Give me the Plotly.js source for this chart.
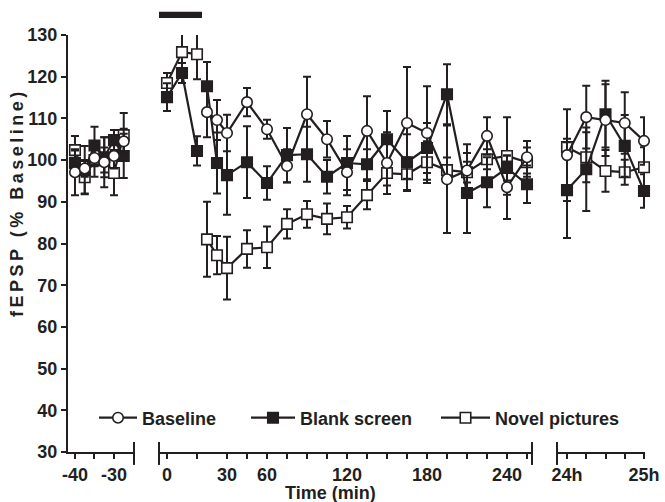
<!DOCTYPE html>
<html><head><meta charset="utf-8">
<script src="https://cdn.plot.ly/plotly-3.0.1.min.js"></script>
<style>
html,body{margin:0;padding:0;background:#fff;}
#chart{width:665px;height:502px;}
text[data-unformatted^="fEPSP"]{letter-spacing:3.5px;}
</style></head><body><div id="chart"></div>
<script>
// ---- data (fEPSP, % of baseline; mean and SEM) ----
// pre-induction baseline recording, minutes
const preTime = [-40, -37.5, -35, -32.5, -30, -27.5];
const baselinePre = [97.1, 98.0, 100.5, 99.5, 101.0, 104.5];
const baselinePreErr = [5.5, 2.0, 2.0, 6.0, 3.0, 3.0];
const blankPre = [99.3, 97.6, 103.5, 100.7, 104.8, 101.0];
const blankPreErr = [3.0, 5.8, 4.5, 4.8, 2.4, 5.3];
const novelPre = [102.4, 95.9, 100.0, 100.0, 96.9, 106.0];
const novelPreErr = [3.4, 3.9, 4.0, 3.0, 5.3, 5.3];

// during exposure, minutes
const duringTime = [0, 7.5, 15];
const blankDuring = [115.1, 120.9, 102.2];
const blankDuringErr = [3.3, 2.4, 3.5];
const novelDuring = [118.5, 125.9, 125.4];
const novelDuringErr = [2.4, 5.8, 6.0];

// after exposure, minutes
const postTime = [20, 25, 30, 45, 60, 75, 90, 105, 120, 135, 150, 165, 180, 195, 210, 225, 240, 255];
const baselinePost = [111.5, 109.6, 106.5, 113.9, 107.4, 98.6, 111.0, 105.0, 97.1, 107.0, 99.3, 108.9, 106.5, 95.4, 97.5, 105.8, 93.5, 100.7];
const baselinePostErr = [6.0, 4.8, 4.4, 3.4, 2.3, 4.0, 9.0, 4.4, 5.5, 8.3, 7.4, 13.4, 11.2, 12.9, 6.3, 4.5, 7.6, 3.9];
const blankPost = [117.7, 99.3, 96.4, 99.5, 94.5, 101.2, 101.4, 96.0, 99.3, 99.0, 105.0, 99.5, 102.9, 115.8, 92.1, 94.7, 98.1, 94.2];
const blankPostErr = [5.8, 7.3, 9.5, 8.6, 4.0, 6.5, 6.6, 4.0, 6.5, 3.6, 6.8, 6.7, 6.0, 7.2, 9.6, 6.0, 3.0, 4.5];
const novelPost = [81.0, 77.2, 74.1, 78.7, 79.1, 84.7, 87.0, 85.9, 86.3, 91.6, 96.9, 96.6, 99.5, 97.6, 97.1, 100.2, 101.0, 99.5];
const novelPostErr = [9.0, 4.6, 7.5, 4.5, 5.0, 3.5, 3.2, 3.7, 2.7, 3.4, 3.0, 4.0, 5.0, 3.0, 2.5, 2.4, 9.3, 3.5];

// 24 h later, minutes after 24 h
const dayTime = [0, 15, 30, 45, 60];
const baselineDay = [101.2, 110.3, 109.6, 108.9, 104.6];
const baselineDayErr = [11.0, 7.5, 8.6, 7.4, 5.7];
const blankDay = [92.8, 97.8, 111.0, 103.4, 92.6];
const blankDayErr = [11.5, 10.0, 8.0, 7.4, 4.0];
const novelDay = [103.1, 100.7, 97.4, 97.1, 98.3];
const novelDayErr = [2.0, 6.0, 5.0, 3.0, 4.8];

// ticks
const preTicks = [-40, -35, -30];
const preTickText = ['-40', '', '-30'];
const postTicks = [0, 15, 30, 45, 60, 75, 90, 105, 120, 135, 150, 165, 180, 195, 210, 225, 240, 255];
const postLabels = {0: '0', 30: '30', 60: '60', 120: '120', 180: '180', 240: '240'};
const dayTicks = [0, 15, 30, 45, 60];
const dayTickText = ['24h', '', '', '', '25h'];
const yTicks = [30, 40, 50, 60, 70, 80, 90, 100, 110, 120, 130];
const exposureBar = [-4, 17.5];

// the first 30 min of the middle segment are drawn stretched (as in the original)
function warp(t) { return t >= 30 ? t : 30 - (30 - t) * 1.5; }

const INK = '#231f20';
const FONT = 'Liberation Sans, Arial, sans-serif';

const styles = {
  baseline: {name: 'Baseline', symbol: 'circle', fill: '#ffffff', legend: 'legend'},
  blank: {name: 'Blank screen', symbol: 'square', fill: INK, legend: 'legend2'},
  novel: {name: 'Novel pictures', symbol: 'square', fill: '#ffffff', legend: 'legend3'}
};

function mk(key, x, y, err, xa, showleg) {
  const s = styles[key];
  return {
    type: 'scatter', mode: 'lines+markers', x: x, y: y,
    xaxis: xa, yaxis: 'y', name: s.name, legend: s.legend,
    showlegend: !!showleg, cliponaxis: false,
    line: {color: INK, width: 2.2},
    marker: {symbol: s.symbol, size: 10.5, color: s.fill, line: {color: INK, width: 1.6}},
    error_y: {type: 'data', array: err, visible: true, color: INK, thickness: 2, width: 4},
    hoverinfo: 'x+y'
  };
}

const data = [
  mk('novel', preTime, novelPre, novelPreErr, 'x'),
  mk('novel', duringTime.map(warp), novelDuring, novelDuringErr, 'x2'),
  mk('novel', postTime.map(warp), novelPost, novelPostErr, 'x2', true),
  mk('novel', dayTime, novelDay, novelDayErr, 'x3'),
  mk('blank', preTime, blankPre, blankPreErr, 'x'),
  mk('blank', duringTime.map(warp), blankDuring, blankDuringErr, 'x2'),
  mk('blank', postTime.map(warp), blankPost, blankPostErr, 'x2', true),
  mk('blank', dayTime, blankDay, blankDayErr, 'x3'),
  mk('baseline', preTime, baselinePre, baselinePreErr, 'x'),
  mk('baseline', postTime.map(warp), baselinePost, baselinePostErr, 'x2', true),
  mk('baseline', dayTime, baselineDay, baselineDayErr, 'x3')
];

const tickFont = {family: FONT, size: 18, color: INK, weight: 700};
function xax(domain, range, tickvals, ticktext) {
  return {
    domain: domain, range: range, anchor: 'y', tickmode: 'array',
    tickvals: tickvals, ticktext: ticktext, ticks: 'outside', ticklen: 5,
    tickwidth: 2, tickcolor: INK, showline: true, linewidth: 2, linecolor: INK,
    showgrid: false, zeroline: false, tickfont: tickFont, fixedrange: true
  };
}

function legendAt(xpx, itemwidth) {
  return {
    x: (xpx - 68) / 577, y: (452 - 418) / 417, xanchor: 'left', yanchor: 'middle',
    orientation: 'h', itemwidth: itemwidth, bgcolor: 'rgba(0,0,0,0)', borderwidth: 0,
    font: {family: FONT, size: 18, color: INK, weight: 700}
  };
}

function breakMark(xref, x) {
  return {type: 'line', xref: xref, yref: 'paper', x0: x, x1: x,
          y0: -0.031, y1: 0.024, line: {color: INK, width: 2}};
}

const layout = {
  width: 665, height: 502,
  margin: {l: 68, r: 20, t: 35, b: 50},
  paper_bgcolor: '#ffffff', plot_bgcolor: '#ffffff',
  showlegend: true,
  xaxis: xax([0, 0.11438], [-41.79, -24.87], preTicks, preTickText),
  xaxis2: xax([0.15771, 0.80416], [warp(-4), 258.75], postTicks.map(warp),
              postTicks.map(t => postLabels[t] || '')),
  xaxis3: xax([0.84749, 1], [-7.79, 60.78], dayTicks, dayTickText),
  yaxis: {
    range: [30, 130], anchor: 'x', tickmode: 'array', tickvals: yTicks,
    ticks: 'outside', ticklen: 5, tickwidth: 2, tickcolor: INK,
    showline: true, linewidth: 2, linecolor: INK, showgrid: false, zeroline: false,
    tickfont: tickFont, fixedrange: true
  },
  legend: legendAt(94, 38),
  legend2: legendAt(246, 44),
  legend3: legendAt(436, 49),
  shapes: [
    breakMark('x domain', 1), breakMark('x2 domain', 0),
    breakMark('x2 domain', 1), breakMark('x3 domain', 0),
    {type: 'rect', xref: 'x2', yref: 'paper', x0: warp(exposureBar[0]), x1: warp(exposureBar[1]),
     y0: 1.041, y1: 1.056, fillcolor: INK, line: {width: 0}}
  ],
  annotations: [
    {text: 'Time (min)', xref: 'paper', yref: 'paper', x: (330 - 68) / 577, y: (452 - 493) / 417,
     xanchor: 'center', yanchor: 'middle', showarrow: false,
     font: {family: FONT, size: 18, color: INK, weight: 700}},
    {text: 'fEPSP (% Baseline)', xref: 'paper', yref: 'paper', x: (17 - 68) / 577, y: (452 - 203) / 417,
     xanchor: 'center', yanchor: 'middle', textangle: -90, showarrow: false,
     font: {family: FONT, size: 18, color: INK, weight: 700}}
  ]
};

Plotly.newPlot('chart', data, layout, {displayModeBar: false, staticPlot: true});
</script></body></html>
